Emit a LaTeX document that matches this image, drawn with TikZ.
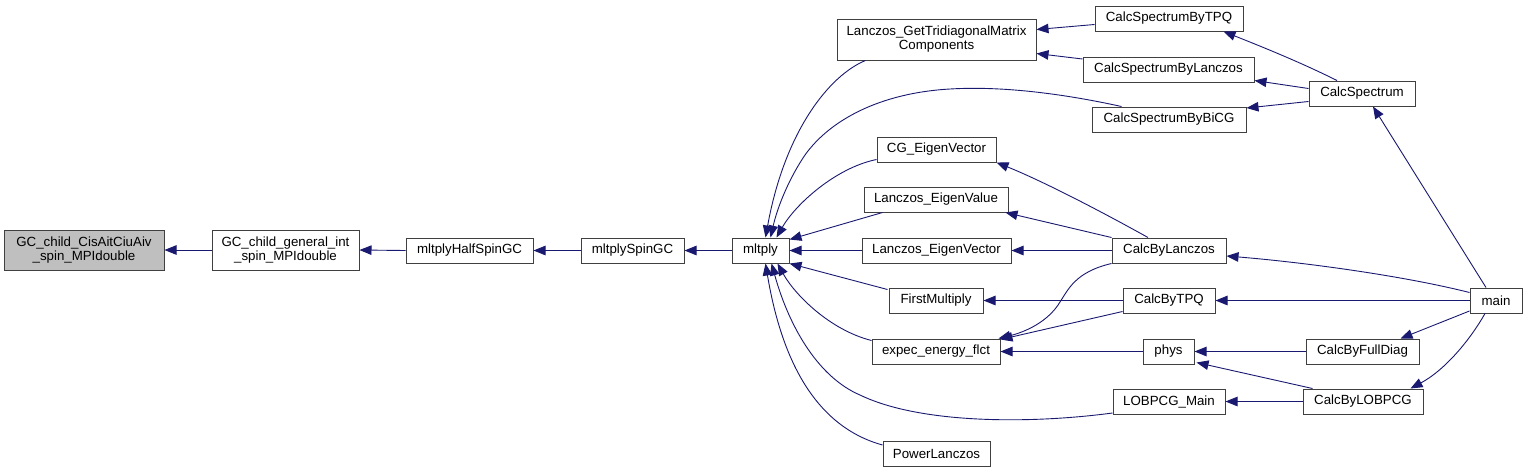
\documentclass[tikz,border=0pt]{standalone}
\usepackage{fontspec}
\setmainfont{Liberation Sans}
\usetikzlibrary{arrows.meta,calc}
\definecolor{edgeblue}{RGB}{25,25,112}
\definecolor{nodegray}{RGB}{191,191,191}
\tikzset{
  box/.style={draw=black!75, line width=1pt, fill=white, inner sep=0pt, align=center,
    font=\fontsize{13.3}{14}\selectfont},
  e/.style={draw=edgeblue, line width=0.9pt, -{Triangle[length=12pt,width=9.5pt]}},
}
\newcommand{\bx}[7][]{\node[box,#1, minimum width={(#5-#3)*1pt}, minimum height={(#6-#4)*1pt}]
  (#2) at ({(#3+#5)/2},{(#4+#6)/2}) {#7};}
\begin{document}
\begin{tikzpicture}[x=1pt,y=-1pt]
\useasboundingbox (0,0) rectangle (1527,472);
% nodes
\bx[fill=nodegray]{cis}{4}{230}{164}{270}{GC\_child\_CisAitCiuAiv\\\_spin\_MPIdouble}
\bx{gen}{212}{230}{359}{270}{GC\_child\_general\_int\\\_spin\_MPIdouble}
\bx{half}{406}{238}{533}{263}{mltplyHalfSpinGC}
\bx{spin}{581}{238}{684}{263}{mltplySpinGC}
\bx{mlt}{732}{238}{789}{263}{mltply}
\bx{gtri}{837}{19}{1036}{60}{Lanczos\_GetTridiagonalMatrix\\Components}
\bx{cg}{877}{137}{996}{162}{CG\_EigenVector}
\bx{lev}{864}{187}{1008}{212}{Lanczos\_EigenValue}
\bx{levec}{862}{238}{1011}{263}{Lanczos\_EigenVector}
\bx{fm}{889}{288}{983}{313}{FirstMultiply}
\bx{eef}{872}{339}{1000}{364}{expec\_energy\_flct}
\bx{lob}{1113}{389}{1225}{414}{LOBPCG\_Main}
\bx{pl}{883}{441}{990}{466}{PowerLanczos}
\bx{tpq}{1095}{6}{1243}{31}{CalcSpectrumByTPQ}
\bx{slan}{1083}{57}{1254}{82}{CalcSpectrumByLanczos}
\bx{bicg}{1092}{107}{1246}{132}{CalcSpectrumByBiCG}
\bx{cspec}{1309}{81}{1415}{106}{CalcSpectrum}
\bx{clan}{1112}{238}{1226}{263}{CalcByLanczos}
\bx{ctpq}{1123}{288}{1215}{313}{CalcByTPQ}
\bx{phys}{1143}{339}{1194}{364}{phys}
\bx{main}{1470}{288}{1522}{313}{main}
\bx{cfd}{1306}{339}{1419}{364}{CalcByFullDiag}
\bx{clob}{1303}{389}{1423}{414}{CalcByLOBPCG}
% edges
\draw[e] (gen.west) -- (cis.east);
\draw[e] (half.west) -- (gen.east);
\draw[e] (spin.west) -- (half.east);
\draw[e] (mlt.west) -- (spin.east);
\draw[e] ($(gtri.south west)+(29,0)$) .. controls (830,75) and (785,130) .. ($(mlt.north)+(5,0)$);
\draw[e] ($(bicg.north west)+(30,0)$) .. controls (1060,93) and (1000,86) .. (950,89)
  .. controls (880,93) and (830,120) .. (805,155)
  .. controls (790,177) and (778,205) .. ($(mlt.north)+(10,0)$);
\draw[e] ($(cg.south west)+(0,-3)$) .. controls (835,168) and (795,205) .. ($(mlt.north)+(16,0)$);
\draw[e] ($(lev.south west)+(19,0)$) -- ($(mlt.north east)+(0,2)$);
\draw[e] (levec.west) -- (mlt.east);
\draw[e] ($(fm.north west)+(-1,2)$) -- (mlt.south east);
\draw[e] ($(eef.north west)+(0,2)$) .. controls (830,330) and (795,295) .. ($(mlt.south)+(17,0)$);
\draw[e] ($(lob.west)+(0,11.5)$) .. controls (1030,424) and (920,424) .. (860,395)
  .. controls (820,378) and (790,330) .. ($(mlt.south)+(11,0)$);
\draw[e] ($(pl.west)+(0,-8.5)$) .. controls (810,425) and (780,350) .. ($(mlt.south)+(5,0)$);
\draw[e] ($(tpq.west)+(0,6)$) -- ($(gtri.east)+(0,-10)$);
\draw[e] ($(slan.west)+(0,-10.5)$) -- ($(gtri.east)+(0,14)$);
\draw[e] ($(cspec.north)+(-25,0)$) .. controls (1300,62) and (1260,46) .. ($(tpq.south east)+(-20,0)$);
\draw[e] ($(cspec.west)+(0,-5)$) -- ($(slan.south east)+(0,-2)$);
\draw[e] ($(cspec.west)+(0,8)$) -- ($(bicg.east)+(0,-11.5)$);
\draw[e] ($(main.north)+(-10,0)$) -- ($(cspec.south)+(11,0)$);
\draw[e] ($(clan.north)+(-21,0)$) .. controls (1095,208) and (1040,180) .. (cg.south east);
\draw[e] (clan.north west) -- ($(lev.south east)+(-3,0)$);
\draw[e] (clan.west) -- (levec.east);
\draw[e] (clan.south west) .. controls (1075,272) and (1068,290) .. (1060,302)
  .. controls (1048,322) and (1025,332) .. ($(eef.north east)+(-2,0)$);
\draw[e] (ctpq.west) -- (fm.east);
\draw[e] ($(ctpq.south west)+(0,-2)$) -- ($(eef.north east)+(0,1)$);
\draw[e] (phys.west) -- (eef.east);
\draw[e] ($(main.west)+(0,-8)$) .. controls (1400,275) and (1300,262) .. ($(clan.east)+(0,5.5)$);
\draw[e] (main.west) -- (ctpq.east);
\draw[e] ($(main.west)+(0,10.5)$) -- ($(cfd.north east)+(-19,0)$);
\draw[e] ($(main.south)+(-11,0)$) .. controls (1470,340) and (1445,370) .. ($(clob.north east)+(-13,0)$);
\draw[e] (cfd.west) -- (phys.east);
\draw[e] ($(clob.north west)+(10,0)$) -- ($(phys.south east)+(2,-2)$);
\draw[e] (clob.west) -- (lob.east);
\end{tikzpicture}
\end{document}
